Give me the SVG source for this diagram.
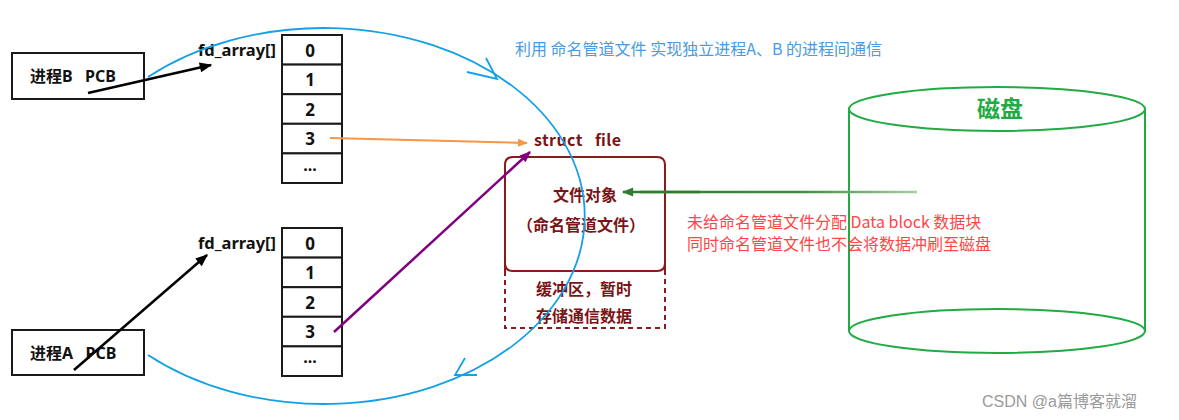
<svg xmlns="http://www.w3.org/2000/svg" width="1179" height="420" viewBox="0 0 1179 420">
<style>
  text{white-space:pre}
  .box{fill:#fff;stroke:#1a1a1a;stroke-width:2}
  .cell{fill:#fff;stroke:#1a1a1a;stroke-width:2}
  .t{font-family:"Noto Sans","Noto Sans CJK SC",sans-serif;font-weight:bold;font-size:16px;fill:#111}
  .d{font-size:17px}
  .c{text-anchor:middle;dominant-baseline:central}
  .dr{fill:#7b1416;font-family:"Noto Sans CJK SC",sans-serif;font-weight:bold;font-size:16px}
  .red{fill:#ff4545;font-family:"Noto Sans CJK SC",sans-serif;font-size:16px}
  .blue{fill:#4a9be3;font-family:"Noto Sans CJK SC",sans-serif;font-size:16px}
  .curve{fill:none;stroke:#14a0e6;stroke-width:1.8}
</style>
<defs>
  <marker id="blk" viewBox="0 0 10 10" refX="9" refY="5" markerWidth="6" markerHeight="5" orient="auto" markerUnits="strokeWidth">
    <path d="M0,1 L10,5 L0,9 Z" fill="#000"/>
  </marker>
  <marker id="org" viewBox="0 0 10 10" refX="9" refY="5" markerWidth="6" markerHeight="5" orient="auto" markerUnits="strokeWidth">
    <path d="M0,1 L10,5 L0,9 Z" fill="#f79646"/>
  </marker>
  <marker id="pur" viewBox="0 0 10 10" refX="9" refY="5" markerWidth="5" markerHeight="4.5" orient="auto" markerUnits="strokeWidth">
    <path d="M0,1 L10,5 L0,9 Z" fill="#800080"/>
  </marker>
  <marker id="grn" viewBox="0 0 10 10" refX="9" refY="5" markerWidth="5" markerHeight="4.5" orient="auto" markerUnits="strokeWidth">
    <path d="M0,1 L10,5 L0,9 Z" fill="#2e7d32"/>
  </marker>
  <linearGradient id="gg" gradientUnits="userSpaceOnUse" x1="623" y1="192" x2="917" y2="192">
    <stop offset="0" stop-color="#2e7d32"/>
    <stop offset="0.6" stop-color="#3d8c3d"/>
    <stop offset="1" stop-color="#a9cfa9"/>
  </linearGradient>
</defs>

<g id="pcbB">
  <rect class="box" x="12" y="53" width="132" height="46"/>
  <text class="t" x="30" y="76" dominant-baseline="central">进程B   PCB</text>
</g>

<g id="fdB">
  <text class="t" x="198" y="50" dominant-baseline="central" textLength="78" lengthAdjust="spacingAndGlyphs">fd_array[]</text>
  <rect class="cell" x="282" y="35" width="60" height="29.6"/>
  <rect class="cell" x="282" y="64.6" width="60" height="29.6"/>
  <rect class="cell" x="282" y="94.2" width="60" height="29.6"/>
  <rect class="cell" x="282" y="123.8" width="60" height="29.6"/>
  <rect class="cell" x="282" y="153.4" width="60" height="29.6"/>
  <text class="t d c" x="310" y="50">0</text>
  <text class="t d c" x="310" y="79.5">1</text>
  <text class="t d c" x="310" y="109">2</text>
  <text class="t d c" x="310" y="138.5">3</text>
  <text class="t c" x="310" y="165">...</text>
</g>

<g id="pcbA">
  <rect class="box" x="12" y="330" width="132" height="45"/>
  <text class="t" x="30" y="353" dominant-baseline="central">进程A   PCB</text>
</g>

<g id="fdA">
  <text class="t" x="198" y="243" dominant-baseline="central" textLength="78" lengthAdjust="spacingAndGlyphs">fd_array[]</text>
  <rect class="cell" x="282" y="228" width="60" height="29.6"/>
  <rect class="cell" x="282" y="257.6" width="60" height="29.6"/>
  <rect class="cell" x="282" y="287.2" width="60" height="29.6"/>
  <rect class="cell" x="282" y="316.8" width="60" height="29.6"/>
  <rect class="cell" x="282" y="346.4" width="60" height="29.6"/>
  <text class="t d c" x="310" y="243">0</text>
  <text class="t d c" x="310" y="272.5">1</text>
  <text class="t d c" x="310" y="302">2</text>
  <text class="t d c" x="310" y="331.5">3</text>
  <text class="t c" x="310" y="357">...</text>
</g>

<g id="structFile">
  <text class="dr" x="534" y="139" dominant-baseline="central" textLength="87">struct   file</text>
  <path d="M505,271 V165 Q505,157 513,157 H657 Q665,157 665,165 V271" fill="none" stroke="#8b1a1a" stroke-width="2"/>
  <path d="M505,263 Q505,271 513,271 H657 Q665,271 665,263" fill="none" stroke="#8b1a1a" stroke-width="2"/>
  <path d="M505,271 V328 H665 V271" fill="none" stroke="#8b1a1a" stroke-width="2" stroke-dasharray="5,4"/>
  <text class="dr c" x="585" y="194">文件对象</text>
  <text class="dr c" x="581" y="224">（命名管道文件）</text>
  <text class="dr c" x="584" y="288">缓冲区，暂时</text>
  <text class="dr c" x="584" y="315">存储通信数据</text>
</g>

<g id="disk">
  <path d="M849,109 V331 M1145,109 V331" stroke="#22aa44" stroke-width="2" fill="none"/>
  <ellipse cx="997" cy="109" rx="148" ry="22" fill="none" stroke="#22aa44" stroke-width="2"/>
  <ellipse cx="997" cy="331" rx="148" ry="22" fill="none" stroke="#22aa44" stroke-width="2"/>
  <text x="1000" y="107" text-anchor="middle" dominant-baseline="central" font-family="Noto Sans CJK SC,sans-serif" font-weight="bold" font-size="23" fill="#22aa44">磁盘</text>
</g>

<g id="notes">
  <text class="blue" x="515" y="48" dominant-baseline="central">利用 命名管道文件 实现独立进程A、B 的进程间通信</text>
  <text class="red" x="687" y="221" dominant-baseline="central">未给命名管道文件分配 Data block 数据块</text>
  <text class="red" x="687" y="243" dominant-baseline="central">同时命名管道文件也不会将数据冲刷至磁盘</text>
  <text x="982" y="401" dominant-baseline="central" font-family="Liberation Sans,Noto Sans CJK SC,sans-serif" font-size="16" fill="#9a9a9a">CSDN @a篇博客就溜</text>
</g>

<g id="connectors">
  <path class="curve" d="M148,77 A261,188 0 1 1 148,355"/>
  <polyline class="curve" points="467,72 497,79 486,58"/>
  <polyline class="curve" points="477,375 455,375 465,358"/>
  <line x1="88" y1="93" x2="211" y2="65" stroke="#000" stroke-width="2.5" marker-end="url(#blk)"/>
  <line x1="74" y1="370" x2="207" y2="255" stroke="#000" stroke-width="2.5" marker-end="url(#blk)"/>
  <line x1="330" y1="138" x2="527" y2="143" stroke="#f79646" stroke-width="2" marker-end="url(#org)"/>
  <line x1="334" y1="332" x2="530" y2="152" stroke="#800080" stroke-width="2.5" marker-end="url(#pur)"/>
  <line x1="917" y1="192" x2="640" y2="192" stroke="url(#gg)" stroke-width="2.5"/>
  <line x1="700" y1="192" x2="623" y2="192" stroke="#2e7d32" stroke-width="2.5" marker-end="url(#grn)"/>
</g>
</svg>
